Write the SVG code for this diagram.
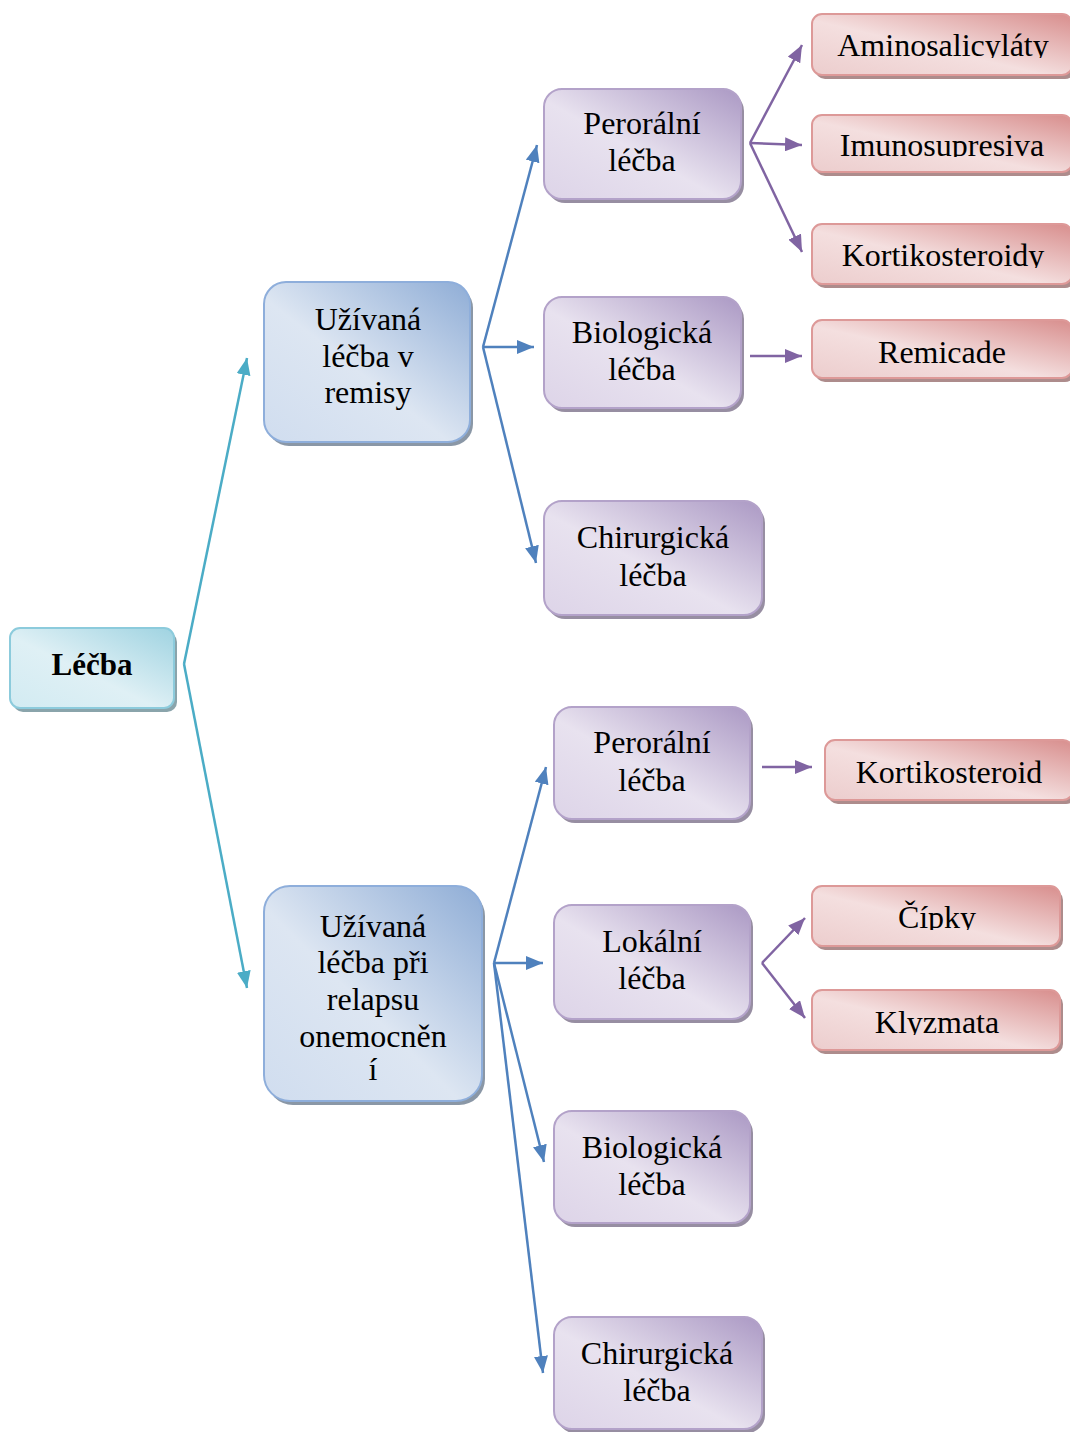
<svg xmlns="http://www.w3.org/2000/svg" width="1070" height="1432" viewBox="0 0 1070 1432">
  <defs>
    <linearGradient id="gCyan" x1="1" y1="0" x2="0" y2="1">
      <stop offset="0" stop-color="#9fd3e1"/>
      <stop offset="0.55" stop-color="#dff0f5"/>
      <stop offset="1" stop-color="#d2ebf2"/>
    </linearGradient>
    <linearGradient id="gBlue" x1="1" y1="0" x2="0" y2="1">
      <stop offset="0" stop-color="#8fadd6"/>
      <stop offset="0.55" stop-color="#dde6f2"/>
      <stop offset="1" stop-color="#d0ddef"/>
    </linearGradient>
    <linearGradient id="gPurple" x1="1" y1="0" x2="0" y2="1">
      <stop offset="0" stop-color="#ab99c4"/>
      <stop offset="0.55" stop-color="#e8e2ef"/>
      <stop offset="1" stop-color="#ddd4e8"/>
    </linearGradient>
    <linearGradient id="gPink" x1="1" y1="0" x2="0" y2="1">
      <stop offset="0" stop-color="#d88e8d"/>
      <stop offset="0.55" stop-color="#f4dfdf"/>
      <stop offset="1" stop-color="#eccdcd"/>
    </linearGradient>
    <marker id="aTeal" viewBox="0 0 17 14" refX="17" refY="7" markerWidth="17" markerHeight="14" markerUnits="userSpaceOnUse" orient="auto">
      <path d="M0,0 L17,7 L0,14 z" fill="#4bacc6"/>
    </marker>
    <marker id="aBlue" viewBox="0 0 17 14" refX="17" refY="7" markerWidth="17" markerHeight="14" markerUnits="userSpaceOnUse" orient="auto">
      <path d="M0,0 L17,7 L0,14 z" fill="#4f81bd"/>
    </marker>
    <marker id="aPurple" viewBox="0 0 17 14" refX="17" refY="7" markerWidth="17" markerHeight="14" markerUnits="userSpaceOnUse" orient="auto">
      <path d="M0,0 L17,7 L0,14 z" fill="#8064a2"/>
    </marker>
    <clipPath id="cAmino"><rect x="812" y="14" width="260" height="44"/></clipPath>
    <clipPath id="cImuno"><rect x="812" y="115" width="260" height="42"/></clipPath>
    <clipPath id="cKortY"><rect x="812" y="224" width="260" height="44"/></clipPath>
    <clipPath id="cCipky"><rect x="812" y="886" width="248" height="44"/></clipPath>
    <clipPath id="cKlyz"><rect x="812" y="990" width="248" height="45"/></clipPath>
  </defs>
  <style>
    text { font-family: "Liberation Serif", "Times New Roman", serif; font-size: 32px; fill: #000; text-anchor: middle; }
    .bold { font-weight: bold; font-size: 31px; }
    .sh-cyan { fill: #8aa4ab; }
    .sh-blue { fill: #8a97a6; }
    .sh-purple { fill: #978ea2; }
    .sh-pink { fill: #ad8c8c; }
    .cyan { fill: url(#gCyan); stroke: #8ccbdc; stroke-width: 2; }
    .blue { fill: url(#gBlue); stroke: #8eaedb; stroke-width: 2; }
    .purple { fill: url(#gPurple); stroke: #b3a2c9; stroke-width: 2; }
    .pink { fill: url(#gPink); stroke: #dd9998; stroke-width: 2; }
    .link { fill: none; stroke-width: 2.5; }
    .teal { stroke: #4bacc6; marker-end: url(#aTeal); }
    .lblue { stroke: #4f81bd; marker-end: url(#aBlue); }
    .lpurple { stroke: #8064a2; marker-end: url(#aPurple); }
  </style>

  <rect width="1070" height="1432" fill="#ffffff"/>

  <!-- connectors -->
  <g id="connectors">
    <line class="link teal" x1="184" y1="664" x2="247" y2="358"/>
    <line class="link teal" x1="184" y1="664" x2="247" y2="988"/>

    <line class="link lblue" x1="483" y1="347" x2="537" y2="145"/>
    <line class="link lblue" x1="483" y1="347" x2="534" y2="347"/>
    <line class="link lblue" x1="483" y1="347" x2="536" y2="563"/>

    <line class="link lblue" x1="494" y1="963" x2="546" y2="767"/>
    <line class="link lblue" x1="494" y1="963" x2="543" y2="963"/>
    <line class="link lblue" x1="494" y1="963" x2="544" y2="1162"/>
    <line class="link lblue" x1="494" y1="963" x2="543" y2="1373"/>

    <line class="link lpurple" x1="750" y1="143" x2="802" y2="45"/>
    <line class="link lpurple" x1="750" y1="143" x2="802" y2="145"/>
    <line class="link lpurple" x1="750" y1="143" x2="802" y2="252"/>
    <line class="link lpurple" x1="750" y1="356" x2="802" y2="356"/>
    <line class="link lpurple" x1="762" y1="767" x2="812" y2="767"/>
    <line class="link lpurple" x1="762" y1="963" x2="805" y2="918"/>
    <line class="link lpurple" x1="762" y1="963" x2="805" y2="1018"/>
  </g>

  <!-- root -->
  <g id="node-lecba">
    <rect class="sh-cyan" x="13" y="632" width="164" height="80" rx="10"/>
    <rect class="cyan" x="10" y="628" width="164" height="80" rx="10"/>
    <text class="bold" x="92" y="675">Léčba</text>
  </g>

  <!-- second level -->
  <g id="node-remise">
    <rect class="sh-blue" x="267" y="286" width="206" height="160" rx="22"/>
    <rect class="blue" x="264" y="282" width="206" height="160" rx="22"/>
    <text x="368" y="330">Užívaná</text>
    <text x="368" y="367">léčba v</text>
    <text x="368" y="403">remisy</text>
  </g>
  <g id="node-relaps">
    <rect class="sh-blue" x="267" y="890" width="218" height="215" rx="26"/>
    <rect class="blue" x="264" y="886" width="218" height="215" rx="26"/>
    <text x="373" y="937">Užívaná</text>
    <text x="373" y="973">léčba při</text>
    <text x="373" y="1010">relapsu</text>
    <text x="373" y="1047">onemocněn</text>
    <text x="373" y="1080">í</text>
  </g>

  <!-- third level, remission branch -->
  <g id="node-peroralni-1">
    <rect class="sh-purple" x="547" y="93" width="197" height="110" rx="18"/>
    <rect class="purple" x="544" y="89" width="197" height="110" rx="18"/>
    <text x="642" y="134">Perorální</text>
    <text x="642" y="171">léčba</text>
  </g>
  <g id="node-biologicka-1">
    <rect class="sh-purple" x="547" y="301" width="197" height="111" rx="18"/>
    <rect class="purple" x="544" y="297" width="197" height="111" rx="18"/>
    <text x="642" y="343">Biologická</text>
    <text x="642" y="380">léčba</text>
  </g>
  <g id="node-chirurgicka-1">
    <rect class="sh-purple" x="547" y="505" width="218" height="114" rx="18"/>
    <rect class="purple" x="544" y="501" width="218" height="114" rx="18"/>
    <text x="653" y="548">Chirurgická</text>
    <text x="653" y="586">léčba</text>
  </g>

  <!-- third level, relapse branch -->
  <g id="node-peroralni-2">
    <rect class="sh-purple" x="557" y="711" width="196" height="112" rx="18"/>
    <rect class="purple" x="554" y="707" width="196" height="112" rx="18"/>
    <text x="652" y="753">Perorální</text>
    <text x="652" y="791">léčba</text>
  </g>
  <g id="node-lokalni">
    <rect class="sh-purple" x="557" y="909" width="196" height="114" rx="18"/>
    <rect class="purple" x="554" y="905" width="196" height="114" rx="18"/>
    <text x="652" y="952">Lokální</text>
    <text x="652" y="989">léčba</text>
  </g>
  <g id="node-biologicka-2">
    <rect class="sh-purple" x="557" y="1115" width="196" height="112" rx="18"/>
    <rect class="purple" x="554" y="1111" width="196" height="112" rx="18"/>
    <text x="652" y="1158">Biologická</text>
    <text x="652" y="1195">léčba</text>
  </g>
  <g id="node-chirurgicka-2">
    <rect class="sh-purple" x="557" y="1321" width="208" height="112" rx="18"/>
    <rect class="purple" x="554" y="1317" width="208" height="112" rx="18"/>
    <text x="657" y="1364">Chirurgická</text>
    <text x="657" y="1401">léčba</text>
  </g>

  <!-- leaves -->
  <g id="node-aminosalicylaty">
    <rect class="sh-pink" x="815" y="18" width="260" height="61" rx="10"/>
    <rect class="pink" x="812" y="14" width="260" height="61" rx="10"/>
    <text x="943" y="56" clip-path="url(#cAmino)">Aminosalicyláty</text>
  </g>
  <g id="node-imunosupresiva">
    <rect class="sh-pink" x="815" y="119" width="260" height="57" rx="10"/>
    <rect class="pink" x="812" y="115" width="260" height="57" rx="10"/>
    <text x="942" y="156" clip-path="url(#cImuno)">Imunosupresiva</text>
  </g>
  <g id="node-kortikosteroidy">
    <rect class="sh-pink" x="815" y="228" width="260" height="60" rx="10"/>
    <rect class="pink" x="812" y="224" width="260" height="60" rx="10"/>
    <text x="943" y="266" clip-path="url(#cKortY)">Kortikosteroidy</text>
  </g>
  <g id="node-remicade">
    <rect class="sh-pink" x="815" y="324" width="260" height="58" rx="10"/>
    <rect class="pink" x="812" y="320" width="260" height="58" rx="10"/>
    <text x="942" y="363">Remicade</text>
  </g>
  <g id="node-kortikosteroid">
    <rect class="sh-pink" x="828" y="744" width="248" height="60" rx="10"/>
    <rect class="pink" x="825" y="740" width="248" height="60" rx="10"/>
    <text x="949" y="783">Kortikosteroid</text>
  </g>
  <g id="node-cipky">
    <rect class="sh-pink" x="815" y="890" width="248" height="60" rx="10"/>
    <rect class="pink" x="812" y="886" width="248" height="60" rx="10"/>
    <text x="937" y="928" clip-path="url(#cCipky)">Čípky</text>
  </g>
  <g id="node-klyzmata">
    <rect class="sh-pink" x="815" y="994" width="248" height="60" rx="10"/>
    <rect class="pink" x="812" y="990" width="248" height="60" rx="10"/>
    <text x="937" y="1033" clip-path="url(#cKlyz)">Klyzmata</text>
  </g>
</svg>
